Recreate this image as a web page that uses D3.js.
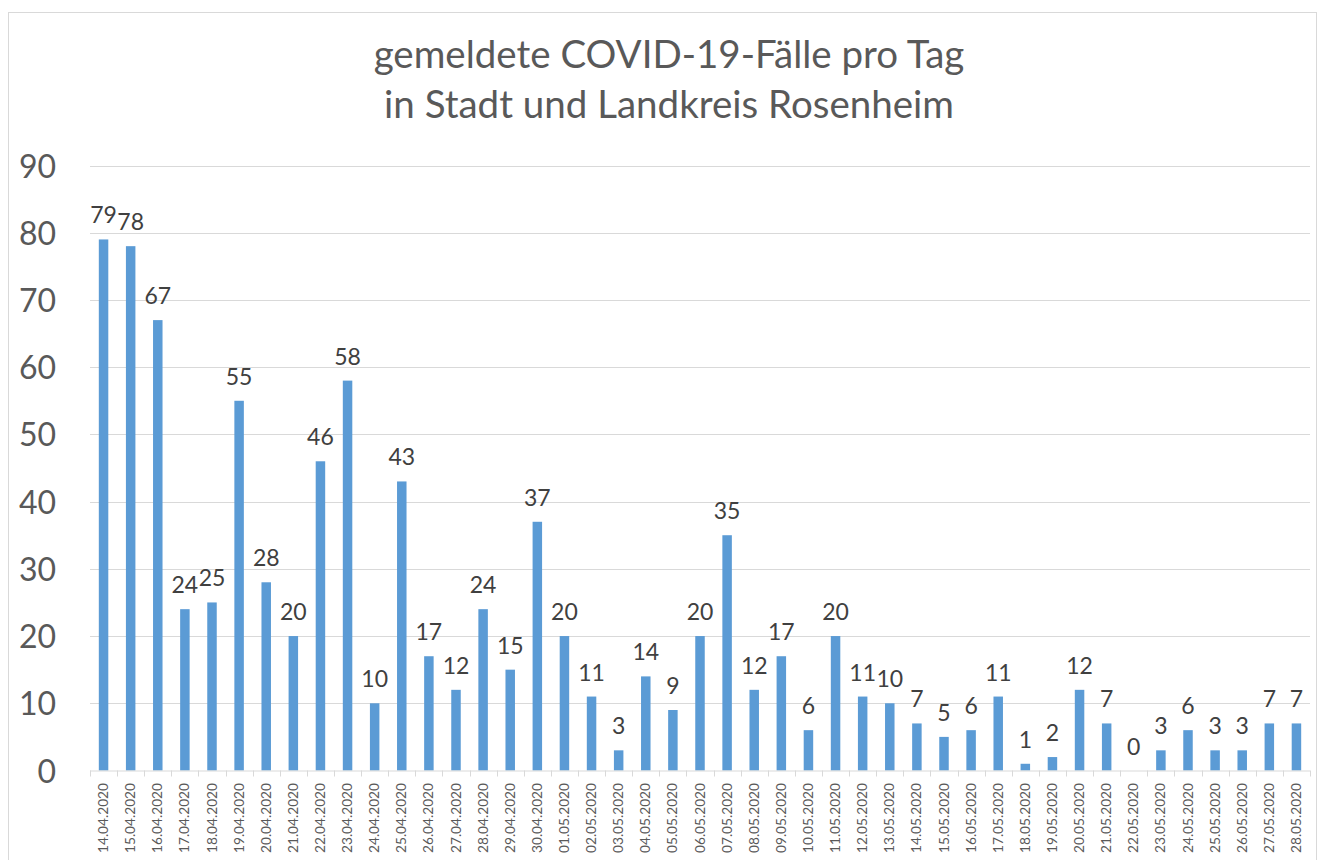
<!DOCTYPE html>
<html lang="de">
<head>
<meta charset="UTF-8">
<title>gemeldete COVID-19-Fälle pro Tag</title>
<style>
    body { margin: 0; background: #fff; }
    svg { display: block; font-family: Lato, "Noto Sans", sans-serif; }
</style>
</head>
<body>
<div id="chart"></div>
<script src="https://d3js.org/d3.v7.min.js"></script>
<script>
    // data
    var dates = ["14.04.2020","15.04.2020","16.04.2020","17.04.2020","18.04.2020","19.04.2020","20.04.2020",
        "21.04.2020","22.04.2020","23.04.2020","24.04.2020","25.04.2020","26.04.2020","27.04.2020","28.04.2020",
        "29.04.2020","30.04.2020","01.05.2020","02.05.2020","03.05.2020","04.05.2020","05.05.2020","06.05.2020",
        "07.05.2020","08.05.2020","09.05.2020","10.05.2020","11.05.2020","12.05.2020","13.05.2020","14.05.2020",
        "15.05.2020","16.05.2020","17.05.2020","18.05.2020","19.05.2020","20.05.2020","21.05.2020","22.05.2020",
        "23.05.2020","24.05.2020","25.05.2020","26.05.2020","27.05.2020","28.05.2020"];
    var cases = [79,78,67,24,25,55,28,20,46,58,10,43,17,12,24,15,37,20,11,3,14,9,20,35,12,17,6,20,11,10,7,5,6,11,1,2,12,7,0,3,6,3,3,7,7];
    var yTicks = [0,10,20,30,40,50,60,70,80,90];
    var titleLines = ["gemeldete COVID-19-Fälle pro Tag", "in Stadt und Landkreis Rosenheim"];

    var W = 1318, H = 860;
    var plot = {left: 90, right: 1310, top: 165.5, bottom: 770.5};

    var svg = d3.select("#chart").append("svg")
        .attr("width", W)
        .attr("height", H);

    // frame
    svg.append("rect")
        .attr("x", 8.5).attr("y", 12.5)
        .attr("width", 1308).attr("height", 860)
        .attr("fill", "none")
        .attr("stroke", "#d9d9d9");

    // title
    svg.append("g").selectAll("text")
        .data(titleLines)
        .join("text")
        .attr("x", 669)
        .attr("y", function(d, i) { return 68 + i * 50; })
        .attr("text-anchor", "middle")
        .attr("fill", "#595959")
        .style("font-size", "38.5px")
        .text(function(d) { return d; });

    var x = d3.scaleBand()
        .domain(dates)
        .range([plot.left, plot.right])
        .paddingInner(0.65)
        .paddingOuter(0.325);

    var y = d3.scaleLinear()
        .domain([0, 90])
        .range([plot.bottom, plot.top]);

    // gridlines
    svg.append("g")
        .selectAll("line")
        .data(yTicks.slice(1))
        .join("line")
        .attr("x1", plot.left).attr("x2", plot.right)
        .attr("y1", function(d) { return Math.round(y(d)) + 0.5; })
        .attr("y2", function(d) { return Math.round(y(d)) + 0.5; })
        .attr("stroke", "#d9d9d9");

    // y axis labels
    var yAxis = d3.axisLeft(y).tickValues(yTicks).tickSize(0).tickPadding(0);
    svg.append("g")
        .attr("transform", "translate(56,0)")
        .call(yAxis)
        .call(function(g) { g.select(".domain").remove(); })
        .selectAll("text")
        .attr("fill", "#595959")
        .attr("dy", "0.36em")
        .style("font-family", "Lato, sans-serif")
        .style("font-size", "32px");

    // bars
    svg.append("g")
        .selectAll("rect")
        .data(cases)
        .join("rect")
        .attr("x", function(d, i) { return x(dates[i]); })
        .attr("width", x.bandwidth())
        .attr("y", function(d) { return y(d); })
        .attr("height", function(d) { return plot.bottom - y(d); })
        .attr("fill", "#5b9bd5");

    // value labels
    svg.append("g")
        .selectAll("text")
        .data(cases)
        .join("text")
        .attr("x", function(d, i) { return x(dates[i]) + x.bandwidth() / 2; })
        .attr("y", function(d) { return y(d) - 16; })
        .attr("text-anchor", "middle")
        .attr("fill", "#404040")
        .style("font-size", "23px")
        .text(function(d) { return d; });

    // x axis: baseline + ticks at category borders
    var step = x.step();
    var x0 = plot.left;
    var gx = svg.append("g");
    gx.append("line")
        .attr("x1", plot.left).attr("x2", plot.right)
        .attr("y1", plot.bottom + 0.5).attr("y2", plot.bottom + 0.5)
        .attr("stroke", "#d9d9d9");
    gx.selectAll("line.tick")
        .data(d3.range(dates.length + 1))
        .join("line")
        .attr("class", "tick")
        .attr("x1", function(i) { return Math.round(x0 + i * step) + 0.5; })
        .attr("x2", function(i) { return Math.round(x0 + i * step) + 0.5; })
        .attr("y1", plot.bottom).attr("y2", plot.bottom + 6)
        .attr("stroke", "#d9d9d9");

    gx.selectAll("text")
        .data(dates)
        .join("text")
        .attr("transform", function(d) {
            return "translate(" + (x(d) + x.bandwidth() / 2 + 4.5) + "," + 783 + ") rotate(-90)";
        })
        .attr("text-anchor", "end")
        .attr("fill", "#595959")
        .attr("textLength", 70)
        .attr("lengthAdjust", "spacingAndGlyphs")
        .style("font-size", "13px")
        .text(function(d) { return d; });
</script>
</body>
</html>
